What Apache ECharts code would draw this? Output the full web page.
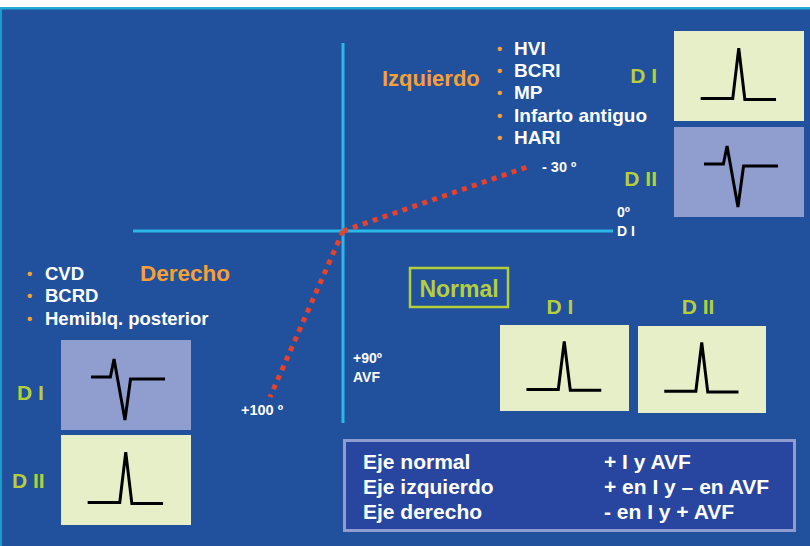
<!DOCTYPE html>
<html><head><meta charset="utf-8">
<script src="https://cdn.jsdelivr.net/npm/echarts@6/dist/echarts.min.js"></script>
<style>html,body{margin:0;padding:0;background:#fff}#c{width:810px;height:546px}</style>
</head><body><div id="c"></div>
<script>
// ---------------- data ----------------
// hexaxial diagram, units relative to the centre of the cross (y grows downwards, +90º = AVF)
const leadAxisDI = [[-210, 0], [270, 0]];
const leadAxisAVF = [[0, -188], [0, 192]];
const axisLeftDeviation = [[0, 0], [187, -65]];    // - 30 º
const axisRightDeviation = [[0, 0], [-73, 166]];   // +100 º
// QRS complexes, normalised to the panel (x 0..1, y 0..1 upwards)
const uprightQRS = [[0.205, 0.25], [0.452, 0.25], [0.498, 0.81], [0.545, 0.24], [0.785, 0.24]];
const negativeQRS = [[0.231, 0.589], [0.38, 0.589], [0.408, 0.789], [0.492, 0.111], [0.535, 0.567], [0.8, 0.567]];
// texts
const leftCauses = ['HVI', 'BCRI', 'MP', 'Infarto antiguo', 'HARI'];
const rightCauses = ['CVD', 'BCRD', 'Hemiblq. posterior'];
const summaryAxes = ['Eje normal', 'Eje izquierdo', 'Eje derecho'];
const summaryRules = ['+ I y AVF', '+ en I y – en AVF', '- en I y + AVF'];
const angleLabels = ['- 30 º', '0º', 'D I', '+90º', 'AVF', '+100 º'];
const deviationTitles = ['Izquierdo', 'Derecho', 'Normal'];
const leadNames = ['D I', 'D II'];

// ---------------- style ----------------
const BG = '#21509d', CYAN = '#2bb7e8', RED = '#e8412c', ORANGE = '#f7a035',
      LIME = '#b5cf3c', LIGHT = '#e7efc9', LAV = '#8f9dcf', WHITE = '#ffffff';
const FONT = '"Liberation Sans", Arial, sans-serif';

const panels = [
  { left: 674, top: 31,  width: 130, height: 90, color: LIGHT, wave: uprightQRS,  lead: 0, lx: 657, ly: 75,  align: 'right' },
  { left: 674, top: 127, width: 130, height: 90, color: LAV,   wave: negativeQRS, lead: 1, lx: 657, ly: 178, align: 'right' },
  { left: 61,  top: 340, width: 130, height: 90, color: LAV,   wave: negativeQRS, lead: 0, lx: 17,  ly: 392, align: 'left' },
  { left: 61,  top: 435, width: 130, height: 90, color: LIGHT, wave: uprightQRS,  lead: 1, lx: 12,  ly: 480, align: 'left' },
  { left: 500, top: 325, width: 129, height: 86, color: LIGHT, wave: uprightQRS,  lead: 0, lx: 560, ly: 306, align: 'center' },
  { left: 638, top: 326, width: 128, height: 87, color: LIGHT, wave: uprightQRS,  lead: 1, lx: 698, ly: 306, align: 'center' }
];

const grids = [{ left: 0, top: 0, width: 810, height: 546, show: false }];
const xAxes = [{ type: 'value', gridIndex: 0, min: -343, max: 467, show: false }];
const yAxes = [{ type: 'value', gridIndex: 0, min: -231, max: 315, inverse: true, show: false }];
const series = [];

function axisLine(data, style) {
  series.push({ type: 'line', xAxisIndex: 0, yAxisIndex: 0, data: data, symbol: 'none',
    lineStyle: style, silent: true, animation: false, z: 3 });
}
axisLine(leadAxisDI, { color: CYAN, width: 3 });
axisLine(leadAxisAVF, { color: CYAN, width: 3 });
axisLine(axisLeftDeviation, { color: RED, width: 5, type: [5, 5.5], cap: 'butt' });
axisLine(axisRightDeviation, { color: RED, width: 5, type: [5, 5.5], cap: 'butt' });

const graphics = [
  { type: 'rect', shape: { x: 0, y: 0, width: 810, height: 7 }, style: { fill: WHITE } },
  { type: 'rect', shape: { x: 0, y: 7, width: 810, height: 2.5 }, style: { fill: '#22a9d6' } },
  { type: 'rect', shape: { x: 0, y: 9, width: 2, height: 537 }, style: { fill: '#1b9cc9' } }
];
function txt(x, y, text, size, color, align) {
  graphics.push({ type: 'text', x: x, y: y, style: { text: text, fill: color,
    font: 'bold ' + size + 'px ' + FONT, textAlign: align || 'left', textVerticalAlign: 'middle' } });
}

panels.forEach(function (p, i) {
  const gi = i + 1;
  grids.push({ left: p.left, top: p.top, width: p.width, height: p.height, show: true,
    backgroundColor: p.color, borderWidth: 0 });
  xAxes.push({ type: 'value', gridIndex: gi, min: 0, max: 1, show: false });
  yAxes.push({ type: 'value', gridIndex: gi, min: 0, max: 1, show: false });
  series.push({ type: 'line', xAxisIndex: gi, yAxisIndex: gi, data: p.wave, symbol: 'none',
    lineStyle: { color: '#000', width: 3, join: 'miter' }, silent: true, animation: false });
  txt(p.lx, p.ly, leadNames[p.lead], 21, LIME, p.align);
});

// left axis deviation list
txt(382, 78, deviationTitles[0], 22, ORANGE);
leftCauses.forEach(function (t, i) {
  txt(497, 48 + i * 22.4, '•', 15, ORANGE);
  txt(514, 48 + i * 22.4, t, 19, WHITE);
});
// right axis deviation list
txt(140, 273, deviationTitles[1], 22.5, ORANGE);
rightCauses.forEach(function (t, i) {
  txt(27, 273 + i * 22.5, '•', 15, ORANGE);
  txt(45, 273 + i * 22.5, t, 18.5, WHITE);
});
// angle labels
txt(542, 167, angleLabels[0], 14.5, WHITE);
txt(617, 212, angleLabels[1], 14, WHITE);
txt(617, 231, angleLabels[2], 14, WHITE);
txt(353, 358, angleLabels[3], 14, WHITE);
txt(353, 377, angleLabels[4], 14, WHITE);
txt(241, 410, angleLabels[5], 14.5, WHITE);
// normal box
graphics.push({ type: 'rect', shape: { x: 410, y: 268, width: 98, height: 39 },
  style: { fill: 'none', stroke: LIME, lineWidth: 2.5 } });
txt(459, 289, deviationTitles[2], 23, LIME, 'center');
// summary box
graphics.push({ type: 'rect', shape: { x: 344.5, y: 440.5, width: 450, height: 90 },
  style: { fill: '#2846a0', stroke: '#8e9cd0', lineWidth: 3 } });
summaryAxes.forEach(function (t, i) {
  txt(363, 461 + i * 25, t, 21, WHITE);
  txt(604, 461 + i * 25, summaryRules[i], 21, WHITE);
});

const chart = echarts.init(document.getElementById('c'), null, { renderer: 'svg', width: 810, height: 546 });
chart.setOption({
  backgroundColor: BG,
  animation: false,
  grid: grids,
  xAxis: xAxes,
  yAxis: yAxes,
  series: series,
  graphic: graphics
});
</script>
</body></html>
